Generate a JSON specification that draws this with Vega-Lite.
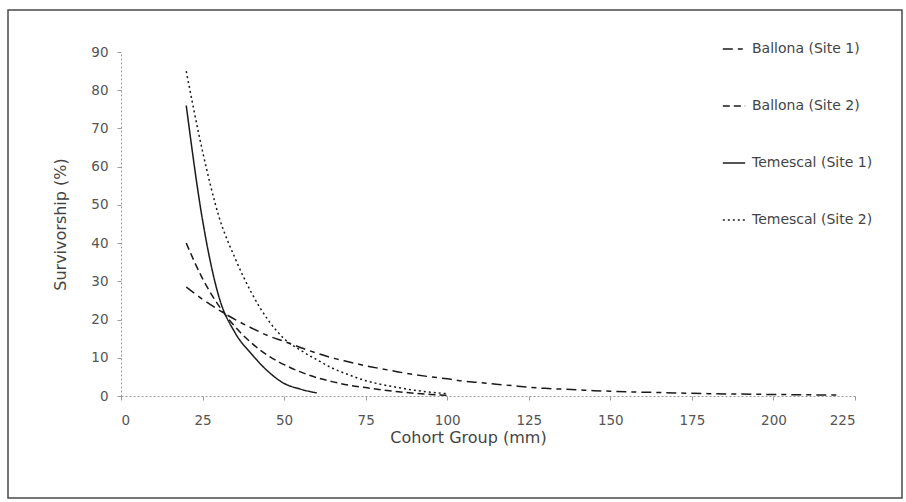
{
  "$schema": "https://vega.github.io/schema/vega-lite/v6.json",
  "width": 894,
  "height": 488,
  "autosize": {"type": "none"},
  "padding": {"left": 8, "top": 10, "right": 4, "bottom": 4},
  "background": "white",
  "config": {
    "view": {"stroke": "#4a4a4a", "strokeWidth": 1.5},
    "font": "DejaVu Sans"
  },
  "data": {
    "values": [
      {"series": "Ballona (Site 1)", "x": 20, "y": 28.5},
      {"series": "Ballona (Site 1)", "x": 25, "y": 25.3},
      {"series": "Ballona (Site 1)", "x": 30, "y": 22.5},
      {"series": "Ballona (Site 1)", "x": 35, "y": 20},
      {"series": "Ballona (Site 1)", "x": 40, "y": 17.8},
      {"series": "Ballona (Site 1)", "x": 45, "y": 15.8},
      {"series": "Ballona (Site 1)", "x": 50, "y": 14.3},
      {"series": "Ballona (Site 1)", "x": 55, "y": 12.7},
      {"series": "Ballona (Site 1)", "x": 60, "y": 11.2},
      {"series": "Ballona (Site 1)", "x": 65, "y": 9.9},
      {"series": "Ballona (Site 1)", "x": 70, "y": 8.9},
      {"series": "Ballona (Site 1)", "x": 75, "y": 7.9},
      {"series": "Ballona (Site 1)", "x": 80, "y": 7.1},
      {"series": "Ballona (Site 1)", "x": 85, "y": 6.3},
      {"series": "Ballona (Site 1)", "x": 90, "y": 5.6},
      {"series": "Ballona (Site 1)", "x": 95, "y": 5.0},
      {"series": "Ballona (Site 1)", "x": 100, "y": 4.5},
      {"series": "Ballona (Site 1)", "x": 105, "y": 3.9},
      {"series": "Ballona (Site 1)", "x": 110, "y": 3.5},
      {"series": "Ballona (Site 1)", "x": 115, "y": 3.1},
      {"series": "Ballona (Site 1)", "x": 120, "y": 2.7},
      {"series": "Ballona (Site 1)", "x": 125, "y": 2.3},
      {"series": "Ballona (Site 1)", "x": 130, "y": 2.0},
      {"series": "Ballona (Site 1)", "x": 135, "y": 1.8},
      {"series": "Ballona (Site 1)", "x": 140, "y": 1.6},
      {"series": "Ballona (Site 1)", "x": 145, "y": 1.4},
      {"series": "Ballona (Site 1)", "x": 150, "y": 1.25},
      {"series": "Ballona (Site 1)", "x": 155, "y": 1.1},
      {"series": "Ballona (Site 1)", "x": 160, "y": 1.0},
      {"series": "Ballona (Site 1)", "x": 165, "y": 0.9},
      {"series": "Ballona (Site 1)", "x": 170, "y": 0.8},
      {"series": "Ballona (Site 1)", "x": 175, "y": 0.7},
      {"series": "Ballona (Site 1)", "x": 180, "y": 0.62},
      {"series": "Ballona (Site 1)", "x": 185, "y": 0.55},
      {"series": "Ballona (Site 1)", "x": 190, "y": 0.5},
      {"series": "Ballona (Site 1)", "x": 195, "y": 0.45},
      {"series": "Ballona (Site 1)", "x": 200, "y": 0.4},
      {"series": "Ballona (Site 1)", "x": 205, "y": 0.36},
      {"series": "Ballona (Site 1)", "x": 210, "y": 0.32},
      {"series": "Ballona (Site 1)", "x": 215, "y": 0.28},
      {"series": "Ballona (Site 1)", "x": 220, "y": 0.25},
      {"series": "Ballona (Site 2)", "x": 20, "y": 40},
      {"series": "Ballona (Site 2)", "x": 25, "y": 30.7},
      {"series": "Ballona (Site 2)", "x": 30, "y": 23.6},
      {"series": "Ballona (Site 2)", "x": 35, "y": 18.1},
      {"series": "Ballona (Site 2)", "x": 40, "y": 13.9},
      {"series": "Ballona (Site 2)", "x": 45, "y": 10.6},
      {"series": "Ballona (Site 2)", "x": 50, "y": 8.2},
      {"series": "Ballona (Site 2)", "x": 55, "y": 6.3},
      {"series": "Ballona (Site 2)", "x": 60, "y": 4.8},
      {"series": "Ballona (Site 2)", "x": 65, "y": 3.7},
      {"series": "Ballona (Site 2)", "x": 70, "y": 2.8},
      {"series": "Ballona (Site 2)", "x": 75, "y": 2.2},
      {"series": "Ballona (Site 2)", "x": 80, "y": 1.6},
      {"series": "Ballona (Site 2)", "x": 85, "y": 1.1},
      {"series": "Ballona (Site 2)", "x": 90, "y": 0.7},
      {"series": "Ballona (Site 2)", "x": 95, "y": 0.4},
      {"series": "Ballona (Site 2)", "x": 100, "y": 0.2},
      {"series": "Temescal (Site 1)", "x": 20, "y": 76},
      {"series": "Temescal (Site 1)", "x": 25, "y": 46},
      {"series": "Temescal (Site 1)", "x": 30, "y": 26},
      {"series": "Temescal (Site 1)", "x": 35, "y": 16.5},
      {"series": "Temescal (Site 1)", "x": 40, "y": 11},
      {"series": "Temescal (Site 1)", "x": 45, "y": 6.5},
      {"series": "Temescal (Site 1)", "x": 50, "y": 3.3},
      {"series": "Temescal (Site 1)", "x": 55, "y": 1.8},
      {"series": "Temescal (Site 1)", "x": 60, "y": 0.8},
      {"series": "Temescal (Site 2)", "x": 20, "y": 85},
      {"series": "Temescal (Site 2)", "x": 25, "y": 64},
      {"series": "Temescal (Site 2)", "x": 30, "y": 47},
      {"series": "Temescal (Site 2)", "x": 35, "y": 36},
      {"series": "Temescal (Site 2)", "x": 40, "y": 27},
      {"series": "Temescal (Site 2)", "x": 45, "y": 20},
      {"series": "Temescal (Site 2)", "x": 50, "y": 15},
      {"series": "Temescal (Site 2)", "x": 55, "y": 12},
      {"series": "Temescal (Site 2)", "x": 60, "y": 9.5},
      {"series": "Temescal (Site 2)", "x": 65, "y": 7.2},
      {"series": "Temescal (Site 2)", "x": 70, "y": 5.5},
      {"series": "Temescal (Site 2)", "x": 75, "y": 4},
      {"series": "Temescal (Site 2)", "x": 80, "y": 3},
      {"series": "Temescal (Site 2)", "x": 85, "y": 2.2},
      {"series": "Temescal (Site 2)", "x": 90, "y": 1.5},
      {"series": "Temescal (Site 2)", "x": 95, "y": 1},
      {"series": "Temescal (Site 2)", "x": 100, "y": 0.6}
    ]
  },
  "mark": {"type": "line", "interpolate": "monotone", "color": "#1a1a1a", "strokeWidth": 1.5},
  "encoding": {
    "x": {
      "field": "x",
      "type": "quantitative",
      "scale": {"domain": [0, 225], "range": [113, 847], "nice": false, "zero": false},
      "axis": {
        "values": [0, 25, 50, 75, 100, 125, 150, 175, 200, 225],
        "offset": -102,
        "title": "Cohort Group (mm)",
        "titleX": 460,
        "grid": false,
        "domainColor": "#9a9a9a",
        "domainDash": [2, 2],
        "tickColor": "#9a9a9a",
        "tickSize": 4,
        "labelPadding": 13,
        "labelFontSize": 13.5,
        "labelColor": "#555555",
        "titleFontSize": 16,
        "titleColor": "#444444",
        "titleFontWeight": "normal",
        "titlePadding": 3
      }
    },
    "y": {
      "field": "y",
      "type": "quantitative",
      "scale": {"domain": [0, 90], "range": [386, 42], "nice": false},
      "axis": {
        "values": [0, 10, 20, 30, 40, 50, 60, 70, 80, 90],
        "offset": -113,
        "title": "Survivorship (%)",
        "grid": false,
        "domainColor": "#9a9a9a",
        "domainDash": [2, 2],
        "tickColor": "#9a9a9a",
        "tickSize": 4,
        "labelPadding": 9,
        "labelFontSize": 13.5,
        "labelColor": "#555555",
        "titleFontSize": 16,
        "titleColor": "#444444",
        "titleFontWeight": "normal",
        "titlePadding": 22
      }
    },
    "strokeDash": {
      "field": "series",
      "type": "nominal",
      "scale": {
        "domain": ["Ballona (Site 1)", "Ballona (Site 2)", "Temescal (Site 1)", "Temescal (Site 2)"],
        "range": [[10, 5, 5, 5], [7, 4], [1, 0], [2, 3]]
      },
      "legend": {
        "orient": "none",
        "legendX": 714,
        "legendY": 27,
        "title": null,
        "symbolType": "stroke",
        "symbolStrokeColor": "#1a1a1a",
        "symbolStrokeWidth": 1.5,
        "symbolSize": 500,
        "labelFontSize": 14,
        "labelColor": "#444444",
        "labelOffset": 6,
        "rowPadding": 38
      }
    }
  }
}
